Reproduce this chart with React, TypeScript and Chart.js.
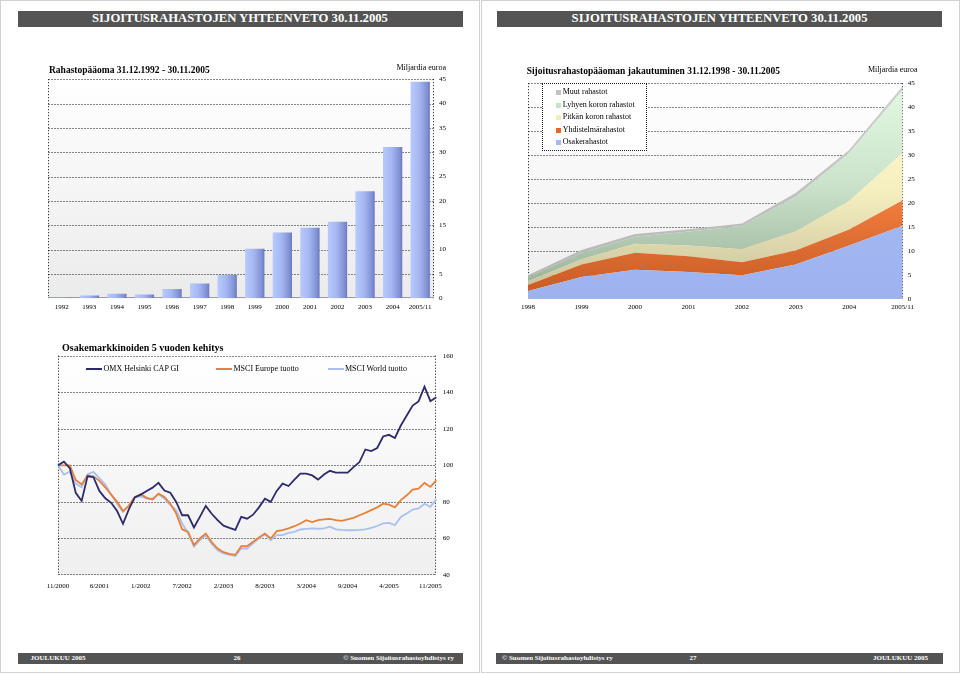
import React, { useEffect, useRef } from 'react';
import { Chart, registerables } from 'chart.js';

Chart.register(...registerables);

const SERIF = "'Liberation Serif', 'Times New Roman', 'DejaVu Serif', serif";
Chart.defaults.font.family = SERIF;

// ---------- Rahastopääoma 31.12.1992 - 30.11.2005 ----------
const fundYears = ['1992', '1993', '1994', '1995', '1996', '1997', '1998', '1999', '2000', '2001', '2002', '2003', '2004', '2005/11'];
const fundCapital = [0.1, 0.55, 0.95, 0.8, 1.9, 3.05, 4.8, 10.2, 13.5, 14.5, 15.7, 22.0, 31.1, 44.5];
const fundAxisMax = 45;
const fundAxisStep = 5;

// ---------- Sijoitusrahastopääoman jakautuminen ----------
const splitYears = ['1998', '1999', '2000', '2001', '2002', '2003', '2004', '2005/11'];
const osakerahastot = [1.65, 4.6, 6.1, 5.65, 4.95, 7.2, 11.15, 15.3];
const yhdistelmarahastot = [1.25, 2.6, 3.55, 3.25, 2.7, 2.9, 3.35, 5.3];
const pitkanKoronRahastot = [0.8, 1.1, 1.85, 2.25, 2.75, 3.95, 5.95, 9.9];
const lyhyenKoronRahastot = [0.9, 1.3, 1.5, 2.95, 4.8, 7.25, 10.0, 13.1];
const muutRahastot = [0.35, 0.6, 0.55, 0.45, 0.55, 0.8, 0.6, 0.8];
const splitAxisMax = 45;
const splitAxisStep = 5;

// ---------- Osakemarkkinoiden 5 vuoden kehitys ----------
const lineTickLabels = ['11/2000', '6/2001', '1/2002', '7/2002', '2/2003', '8/2003', '3/2004', '9/2004', '4/2005', '11/2005'];
const lineTickStep = 7;
const omxHelsinki = [
  100, 102, 98.5, 85, 80.5, 94, 93.5, 86, 82, 79.5,
  75, 68, 76, 82.5, 84, 86, 87.8, 90.4, 86.2, 85,
  80, 72.7, 72.7, 66, 71.8, 77.8, 73.5, 70, 67, 65.8,
  64.7, 71.8, 70.8, 73, 77, 81.7, 80, 86, 90, 88.7,
  92.2, 95.5, 95.5, 94.5, 92.2, 95, 97, 96, 96, 96,
  99, 101.8, 108.7, 107.8, 109.5, 115.8, 116.7, 115, 121.8, 127.3,
  132.7, 135, 143.1, 135.1, 137.3,
];
const msciEurope = [
  100, 100, 100, 92, 89.5, 94.5, 94, 91.5, 88, 84,
  80, 75, 78, 82.7, 84.2, 82.2, 81.3, 84.5, 82.7, 79,
  73.6, 65, 63.6, 56.4, 60, 62.7, 58, 54.5, 52.5, 51.5,
  51, 55.8, 55.8, 58.2, 60.5, 62.7, 60, 64, 64.5, 65.5,
  66.7, 68.2, 70, 69, 70, 70.4, 70.7, 70, 69.6, 70.5,
  71.3, 72.7, 74, 75.5, 77, 79, 78.5, 77, 81, 83.6,
  86.7, 87.3, 90.4, 88.2, 91.8,
];
const msciWorld = [
  100, 95, 96.5, 90, 88, 95, 96.4, 93, 89.5, 84,
  79, 74.5, 78, 82.7, 83, 81.8, 81.8, 84.2, 81.8, 78.2,
  75.5, 68.2, 63, 55.5, 59, 61.8, 57, 53.5, 51.8, 51,
  50.4, 54.5, 54.5, 57.3, 60, 62.4, 59, 61.8, 61.8, 63,
  63.6, 64.9, 65.2, 65.5, 65.3, 65.5, 66.4, 65, 64.7, 64.5,
  64.5, 64.7, 65, 65.8, 66.8, 68.2, 68.5, 67.3, 71.8, 73.6,
  75.8, 76.4, 79, 77.3, 81.5,
];
const lineAxisMin = 40;
const lineAxisMax = 160;
const lineAxisStep = 20;
const lineCategories = omxHelsinki.map((_, i) =>
  i % lineTickStep === 0 && lineTickLabels[i / lineTickStep] ? lineTickLabels[i / lineTickStep] : ''
);

// ---------- colours ----------
const C_OMX = '#2e2b6c';
const C_EUR = '#e8803a';
const C_WORLD = '#a9c0f0';
const C_OSAKE = '#a6baf2';
const C_YHD = '#e2692c';
const C_PITKA = '#f4eeb4';
const C_LYHYT = '#c6e4c6';
const C_MUUT = '#c2c2c2';

// plot frame: background gradient, dotted grid and border
const framePlugin = {
  id: 'frame',
  beforeDatasetsDraw(chart: any, _args: any, opts: any) {
    const { ctx, chartArea: a } = chart;
    const ys = chart.scales.y;
    ctx.save();
    const g = ctx.createLinearGradient(0, a.top, 0, a.bottom);
    g.addColorStop(0, opts.bgTop || '#ffffff');
    g.addColorStop(1, opts.bgBottom || '#efefef');
    ctx.fillStyle = g;
    ctx.fillRect(a.left, a.top, a.right - a.left, a.bottom - a.top);
    ctx.lineWidth = 1;
    ctx.strokeStyle = '#111111';
    ctx.setLineDash([1, 2]);
    const L = Math.round(a.left) + 0.5;
    const R = Math.round(a.right) - 0.5;
    ys.ticks.forEach((t: any) => {
      if (opts.solidBase && t.value === ys.min) return;
      let y = Math.round(ys.getPixelForValue(t.value)) + 0.5;
      if (t.value === ys.min) y -= 1;
      ctx.beginPath();
      ctx.moveTo(L, y);
      ctx.lineTo(R, y);
      ctx.stroke();
    });
    [L, R].forEach((x) => {
      ctx.beginPath();
      ctx.moveTo(x, a.top);
      ctx.lineTo(x, a.bottom);
      ctx.stroke();
    });
    if (opts.solidBase) {
      ctx.setLineDash([]);
      ctx.strokeStyle = '#9c9c9c';
      const y = Math.round(ys.getPixelForValue(ys.min)) - 0.5;
      ctx.beginPath();
      ctx.moveTo(a.left, y);
      ctx.lineTo(a.right, y);
      ctx.stroke();
    }
    ctx.restore();
  },
};

const tickFont = { family: SERIF, size: 7 };

const fixedHeight = (h: number) => (s: any) => {
  s.height = h;
};
const fixedWidth = (w: number) => (s: any) => {
  s.width = w;
};

const barGradient = (c: any) => {
  const chart = c.chart;
  const xs = chart.scales && chart.scales.x;
  if (c.type !== 'data' || !xs || !chart.chartArea) return '#a0b4ee';
  const center = xs.getPixelForValue(c.dataIndex);
  const half = ((xs.right - xs.left) / fundYears.length) * 0.7 * 0.5;
  const g = chart.ctx.createLinearGradient(center - half, 0, center + half, 0);
  g.addColorStop(0, '#b8cafb');
  g.addColorStop(0.45, '#a4b7f1');
  g.addColorStop(0.85, '#8192d4');
  g.addColorStop(1, '#6a7abd');
  return g;
};

const vGrad = (stops: [number, string][]) => (c: any) => {
  const chart = c.chart;
  const a = chart.chartArea;
  if (!a) return stops[0][1];
  const g = chart.ctx.createLinearGradient(0, a.top, 0, a.bottom);
  stops.forEach(([o, col]) => g.addColorStop(o, col));
  return g;
};

const makeFundChart = () => ({
  type: 'bar',
  data: {
    labels: fundYears,
    datasets: [
      {
        label: 'Rahastopääoma',
        data: fundCapital,
        backgroundColor: barGradient,
        borderWidth: 0,
        categoryPercentage: 1,
        barPercentage: 0.7,
      },
    ],
  },
  options: {
    animation: false,
    responsive: false,
    events: [],
    layout: { padding: { left: 8, top: 7.3, right: 0, bottom: 0 } },
    plugins: {
      legend: { display: false },
      tooltip: { enabled: false },
      frame: { bgTop: '#ffffff', bgBottom: '#ebebeb', solidBase: true },
    },
    scales: {
      x: {
        grid: { display: false, drawTicks: false },
        border: { display: false },
        ticks: { font: tickFont, color: '#000', padding: 4.2, maxRotation: 0, minRotation: 0, autoSkip: false },
        afterFit: fixedHeight(23.7),
      },
      y: {
        position: 'right',
        min: 0,
        max: fundAxisMax,
        grid: { display: false, drawTicks: false },
        border: { display: false },
        ticks: { stepSize: fundAxisStep, font: tickFont, color: '#000', padding: 5 },
        afterFit: fixedWidth(26),
      },
    },
  },
  plugins: [framePlugin],
});

const areaDataset = (label: string, data: number[], fill: any, bg: any) => ({
  label,
  data,
  fill,
  backgroundColor: bg,
  borderColor: 'rgba(0,0,0,0)',
  borderWidth: 0,
  pointRadius: 0,
  tension: 0,
});

const makeSplitChart = () => ({
  type: 'line',
  data: {
    labels: splitYears,
    datasets: [
      areaDataset('Osakerahastot', osakerahastot, 'origin', vGrad([[0, '#aec2fb'], [1, '#9db2ee']])),
      areaDataset('Yhdistelmärahastot', yhdistelmarahastot, '-1', vGrad([[0, '#ff9a5a'], [0.55, '#f07c3c'], [1, '#c65a24']])),
      areaDataset('Pitkän koron rahastot', pitkanKoronRahastot, '-1', vGrad([[0, '#fffcd2'], [0.5, '#f5efc0'], [1, '#c6bd96']])),
      areaDataset('Lyhyen koron rahastot', lyhyenKoronRahastot, '-1', vGrad([[0, '#e2f8e2'], [0.45, '#cce4cc'], [0.8, '#a9c1a9'], [1, '#96ae96']])),
      areaDataset('Muut rahastot', muutRahastot, '-1', vGrad([[0, '#cfcfcf'], [1, '#b4b4b4']])),
    ],
  },
  options: {
    animation: false,
    responsive: false,
    events: [],
    layout: { padding: { left: 13, top: 7.2, right: 0, bottom: 0 } },
    plugins: {
      legend: { display: false },
      tooltip: { enabled: false },
      frame: { bgTop: '#ffffff', bgBottom: '#ededed', solidBase: true },
    },
    scales: {
      x: {
        stacked: true,
        grid: { display: false, drawTicks: false },
        border: { display: false },
        ticks: { font: tickFont, color: '#000', padding: 4, maxRotation: 0, minRotation: 0, autoSkip: false },
        afterFit: fixedHeight(23),
      },
      y: {
        stacked: true,
        position: 'right',
        min: 0,
        max: splitAxisMax,
        grid: { display: false, drawTicks: false },
        border: { display: false },
        ticks: { stepSize: splitAxisStep, font: tickFont, color: '#000', padding: 5 },
        afterFit: fixedWidth(32.3),
      },
    },
  },
  plugins: [framePlugin],
});

const lineDataset = (label: string, data: number[], color: string) => ({
  label,
  data,
  borderColor: color,
  backgroundColor: color,
  borderWidth: 1.8,
  pointRadius: 0,
  tension: 0,
  fill: false,
});

const makeMarketChart = () => ({
  type: 'line',
  data: {
    labels: lineCategories,
    datasets: [
      lineDataset('OMX Helsinki CAP GI', omxHelsinki, C_OMX),
      lineDataset('MSCI Europe tuotto', msciEurope, C_EUR),
      lineDataset('MSCI World tuotto', msciWorld, C_WORLD),
    ],
  },
  options: {
    animation: false,
    responsive: false,
    events: [],
    layout: { padding: { left: 22, top: 10, right: 0, bottom: 0 } },
    plugins: {
      legend: { display: false },
      tooltip: { enabled: false },
      frame: { bgTop: '#ffffff', bgBottom: '#efefef', solidBase: false },
    },
    scales: {
      x: {
        grid: { display: false, drawTicks: false },
        border: { display: false },
        ticks: { font: tickFont, color: '#000', padding: 6.5, maxRotation: 0, minRotation: 0, autoSkip: false },
        afterFit: fixedHeight(25),
      },
      y: {
        position: 'right',
        min: lineAxisMin,
        max: lineAxisMax,
        grid: { display: false, drawTicks: false },
        border: { display: false },
        ticks: { stepSize: lineAxisStep, font: tickFont, color: '#000', padding: 6.5 },
        afterFit: fixedWidth(38.7),
      },
    },
  },
  plugins: [framePlugin],
});

function ChartBox({ x, y, w, h, make }: { x: number; y: number; w: number; h: number; make: () => any }) {
  const ref = useRef<HTMLCanvasElement | null>(null);
  useEffect(() => {
    if (!ref.current) return;
    const chart = new Chart(ref.current, make());
    return () => chart.destroy();
  }, []);
  return (
    <canvas
      ref={ref}
      width={w}
      height={h}
      style={{ position: 'absolute', left: x, top: y, width: w, height: h, display: 'block' }}
    />
  );
}

function T({
  x,
  y,
  size,
  bold,
  color,
  children,
  align,
  w,
}: {
  x: number;
  y: number;
  size: number;
  bold?: boolean;
  color?: string;
  children: React.ReactNode;
  align?: 'left' | 'center' | 'right';
  w?: number;
}) {
  return (
    <div
      style={{
        position: 'absolute',
        left: x,
        top: y,
        width: w,
        fontSize: size,
        lineHeight: `${size}px`,
        fontWeight: bold ? 'bold' : 'normal',
        color: color || '#000',
        whiteSpace: 'nowrap',
        textAlign: align || 'left',
        zIndex: 3,
      }}
    >
      {children}
    </div>
  );
}

const headerText = 'SIJOITUSRAHASTOJEN YHTEENVETO 30.11.2005';
const footerMonth = 'JOULUKUU 2005';
const footerOrg = '© Suomen Sijoitusrahastoyhdistys ry';

function Bar({ x, y, w, h }: { x: number; y: number; w: number; h: number }) {
  return <div style={{ position: 'absolute', left: x, top: y, width: w, height: h, background: '#545454', zIndex: 1 }} />;
}

const splitLegend: [string, string][] = [
  ['Muut rahastot', C_MUUT],
  ['Lyhyen koron rahastot', C_LYHYT],
  ['Pitkän koron rahastot', C_PITKA],
  ['Yhdistelmärahastot', C_YHD],
  ['Osakerahastot', C_OSAKE],
];
const splitLegendY = [92.3, 105.1, 117.6, 130.1, 142.6];

const marketLegend: [string, string, number][] = [
  ['OMX Helsinki CAP GI', C_OMX, 86],
  ['MSCI Europe tuotto', C_EUR, 216],
  ['MSCI World tuotto', C_WORLD, 327.5],
];

export default function App() {
  return (
    <div
      style={{
        position: 'absolute',
        left: 0,
        top: 0,
        width: 960,
        height: 674,
        background: '#ffffff',
        overflow: 'hidden',
        fontFamily: SERIF,
      }}
    >
      {/* page frames */}
      <div style={{ position: 'absolute', left: 0, top: 0, width: 478, height: 671, border: '1px solid #d2d2d2' }} />
      <div style={{ position: 'absolute', left: 481, top: 0, width: 477, height: 671, border: '1px solid #d2d2d2' }} />

      {/* headers */}
      <Bar x={17.5} y={10.7} w={445} h={16} />
      <T x={17.5} y={12.4} w={445} size={12.7} bold color="#fff" align="center">
        {headerText}
      </T>
      <Bar x={497.3} y={10.7} w={444.5} h={16} />
      <T x={497.3} y={12.4} w={444.5} size={12.7} bold color="#fff" align="center">
        {headerText}
      </T>

      {/* chart 1 */}
      <T x={49} y={65.5} size={9.5} bold>
        Rahastopääoma 31.12.1992 - 30.11.2005
      </T>
      <T x={396.5} y={63.9} size={8}>
        Miljardia euroa
      </T>
      <ChartBox x={40} y={70} w={420} h={252} make={makeFundChart} />

      {/* chart 2 */}
      <T x={526.7} y={66.5} size={9.5} bold>
        Sijoitusrahastopääoman jakautuminen 31.12.1998 - 30.11.2005
      </T>
      <T x={868} y={65.6} size={8}>
        Miljardia euroa
      </T>
      <ChartBox x={515} y={74} w={420} h={248} make={makeSplitChart} />
      <div
        style={{
          position: 'absolute',
          left: 541.7,
          top: 83.3,
          width: 103,
          height: 66,
          border: '1px dotted #222',
          background: '#ffffff',
          zIndex: 2,
        }}
      />
      {splitLegend.map(([name, col], i) => (
        <React.Fragment key={name}>
          <div
            style={{
              position: 'absolute',
              left: 555.5,
              top: splitLegendY[i] - 2.5,
              width: 5,
              height: 5,
              background: col,
              zIndex: 3,
            }}
          />
          <T x={562.7} y={splitLegendY[i] - 4.4} size={8}>
            {name}
          </T>
        </React.Fragment>
      ))}

      {/* chart 3 */}
      <T x={62} y={343.1} size={10} bold>
        Osakemarkkinoiden 5 vuoden kehitys
      </T>
      <ChartBox x={35.6} y={345} w={439.4} h={255} make={makeMarketChart} />
      {marketLegend.map(([name, col, lx]) => (
        <React.Fragment key={name}>
          <div
            style={{ position: 'absolute', left: lx, top: 368, width: 16, height: 2, background: col, zIndex: 3 }}
          />
          <T x={lx + 17.5} y={364.6} size={8}>
            {name}
          </T>
        </React.Fragment>
      ))}

      {/* footers */}
      <Bar x={17.5} y={653} w={445.5} h={11} />
      <T x={30.5} y={655} size={7} bold color="#fff">
        {footerMonth}
      </T>
      <T x={217} y={655} w={40} size={7} bold color="#fff" align="center">
        26
      </T>
      <T x={254} y={655} w={200} size={7} bold color="#fff" align="right">
        {footerOrg}
      </T>
      <Bar x={496} y={653} w={447} h={11} />
      <T x={502} y={655} size={7} bold color="#fff">
        {footerOrg}
      </T>
      <T x={673} y={655} w={40} size={7} bold color="#fff" align="center">
        27
      </T>
      <T x={728} y={655} w={200} size={7} bold color="#fff" align="right">
        {footerMonth}
      </T>
    </div>
  );
}
